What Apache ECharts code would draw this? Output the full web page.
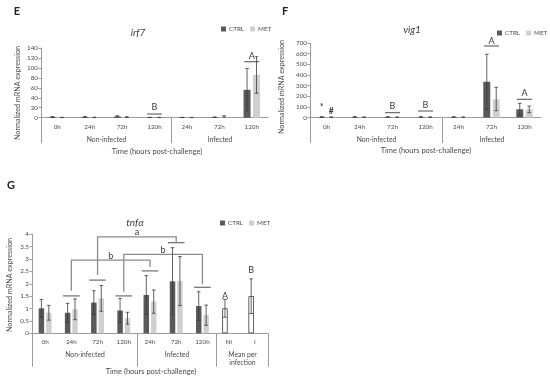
<!DOCTYPE html>
<html><head><meta charset="utf-8">
<script src="https://cdn.jsdelivr.net/npm/echarts@6/dist/echarts.min.js"></script>
<style>html,body{margin:0;padding:0;background:#fff}#c{width:550px;height:380px}</style>
</head><body><div id="c"></div>
<script>
// ---------------- DATA ----------------
// Panel E - irf7
const eCategories = ['0h','24h','72h','120h','24h','72h','120h'];
const eCtrl     = [1.5, 1.5, 2.5, 0.5, 0.5, 1.0, 56];
const eCtrlLow  = [0.5, 0.5, 1.0, 0.2, 0.2, 0.5, 13.5];
const eCtrlHigh = [2.5, 2.5, 4.0, 0.8, 0.8, 1.5, 99];
const eMet      = [0.5, 0.6, 1.2, 0.4, 0.4, 2.0, 86];
const eMetLow   = [0.2, 0.2, 0.5, 0.2, 0.2, 0.8, 49];
const eMetHigh  = [0.8, 1.0, 2.0, 0.6, 0.6, 4.0, 122.5];
const eYTicks   = [0, 140, 20];           // min, max, step
const eMarkCat    = [3, 6];
const eMarkLineY  = [7.4, 112.4];
const eMarkTextY  = [21, 124.5];
const eMarkLetter = ['B', 'A'];

// Panel F - vig1
const fCategories = ['0h','24h','72h','120h','24h','72h','120h'];
const fCtrl     = [5, 5, 5, 5, 5, 336, 77];
const fCtrlLow  = [2, 2, 2, 2, 2, 77, 23];
const fCtrlHigh = [8, 8, 8, 8, 8, 594, 133];
const fMet      = [3, 3, 3, 3, 3, 171, 77];
const fMetLow   = [1, 1, 1, 1, 1, 64, 45];
const fMetHigh  = [5, 5, 5, 5, 5, 284, 108];
const fYTicks   = [0, 700, 100];
const fMarkCat    = [2, 3, 5, 6];
const fMarkLineY  = [45, 61, 672, 171];
const fMarkTextY  = [108, 117, 722, 233];
const fMarkLetter = ['B', 'B', 'A', 'A'];
const fSymCat    = [0, 0];
const fSymY      = [92, 55];
const fSymSide   = [-1, 1];
const fSymText   = ['*', '#'];

// Panel G - tnfα
const gCategories = ['0h','24h','72h','120h','24h','72h','120h','NI','I'];
const gCtrl     = [1.01, 0.83, 1.24, 0.92, 1.55, 2.10, 1.10];
const gCtrlLow  = [0.65, 0.45, 0.76, 0.43, 0.77, 0.74, 0.52];
const gCtrlHigh = [1.37, 1.21, 1.72, 1.41, 2.33, 3.46, 1.68];
const gMet      = [0.83, 0.97, 1.41, 0.61, 1.28, 2.11, 0.73];
const gMetLow   = [0.53, 0.55, 0.89, 0.37, 0.81, 1.12, 0.32];
const gMetHigh  = [1.13, 1.39, 1.93, 0.85, 1.75, 3.10, 1.14];
const gMean     = [1.01, 1.50];
const gMeanLow  = [0.65, 0.80];
const gMeanHigh = [1.37, 2.20];
const gYTicks   = [0, 4, 0.5];
const gLineCat  = [1, 2, 3, 4, 5, 6];
const gLineY    = [1.51, 2.15, 1.51, 2.52, 3.66, 1.86];
const gLetterCat = [7, 8];
const gLetterY   = [1.51, 2.56];
const gLetter    = ['A', 'B'];
// brackets: left cat, right cat, top y, left bottom y, right bottom y, label y
const gBrLeft   = [2, 1, 3];
const gBrRight  = [5, 4, 6];
const gBrTop    = [3.90, 2.96, 3.19];
const gBrLeftB  = [2.36, 1.72, 1.68];
const gBrRightB = [3.70, 2.68, 1.98];
const gBrLabelY = [4.10, 3.12, 3.37];
const gBrLabel  = ['a', 'b', 'b'];

const groupNames2 = ['Non-infected', 'Infected'];
const groupStart2 = [0, 4];
const groupEnd2   = [3, 6];
const groupNames3 = ['Non-infected', 'Infected', 'Mean per\ninfection'];
const groupStart3 = [0, 4, 7];
const groupEnd3   = [3, 6, 8];

// ---------------- STYLE ----------------
const FONT = 'Lato, "Liberation Sans", sans-serif';
const AXIS_COLOR = '#9c9c9c';
const TEXT_COLOR = '#4a4a4a';
const DARK = '#3a3a3a';
const CTRL_COLOR = '#5a5a5a';
const MET_COLOR = '#d0d0d0';
const BRACKET_COLOR = '#8c8c8c';

const panels = [
  {grid:{left:41, top:48, width:227, height:69.7}, cats:eCategories, ticks:eYTicks, barW:7,
   ctrl:eCtrl, met:eMet, cl:eCtrlLow, ch:eCtrlHigh, ml:eMetLow, mh:eMetHigh,
   groups:[groupNames2, groupStart2, groupEnd2], gLen:25.5, gTop:18.3, closeRight:false,
   marks:[eMarkCat, eMarkLineY, eMarkTextY, eMarkLetter], halfLine:7.5},
  {grid:{left:310, top:43, width:231, height:74.5}, cats:fCategories, ticks:fYTicks, barW:7,
   ctrl:fCtrl, met:fMet, cl:fCtrlLow, ch:fCtrlHigh, ml:fMetLow, mh:fMetHigh,
   groups:[groupNames2, groupStart2, groupEnd2], gLen:25.5, gTop:18.3, closeRight:false,
   marks:[fMarkCat, fMarkLineY, fMarkTextY, fMarkLetter], halfLine:7.5},
  {grid:{left:32, top:234.3, width:236, height:99}, cats:gCategories, ticks:gYTicks, barW:5.5,
   ctrl:gCtrl, met:gMet, cl:gCtrlLow, ch:gCtrlHigh, ml:gMetLow, mh:gMetHigh,
   groups:[groupNames3, groupStart3, groupEnd3], gLen:33.4, gTop:18,
   closeRight:true, marks:null, halfLine:8.3}
];
const GAP_RATIO = 0.35;

function offsetOf(barW, side){ return side * barW * (1 + GAP_RATIO) / 2; }

function errorSeries(idx, lows, highs, offset){
  const data = [];
  lows.forEach((l, i) => { if (l != null && highs[i] != null) data.push([i, l, highs[i]]); });
  return {type:'custom', xAxisIndex:idx, yAxisIndex:idx, silent:true, z:5, clip:false,
    data, encode:{x:0, y:[1,2]},
    renderItem(params, api){
      const lo = api.coord([api.value(0), api.value(1)]);
      const hi = api.coord([api.value(0), api.value(2)]);
      const x = lo[0] + offset, cap = 1.8;
      const st = {stroke:DARK, lineWidth:0.8};
      return {type:'group', children:[
        {type:'line', shape:{x1:x, y1:lo[1], x2:x, y2:hi[1]}, style:st},
        {type:'line', shape:{x1:x-cap, y1:hi[1], x2:x+cap, y2:hi[1]}, style:st},
        {type:'line', shape:{x1:x-cap, y1:lo[1], x2:x+cap, y2:lo[1]}, style:st}
      ]};
    }};
}

function groupSeries(idx, p){
  const [names, starts, ends] = p.groups;
  return {type:'custom', xAxisIndex:idx, yAxisIndex:idx, silent:true, z:2, clip:false,
    data: names.map((n, i) => [starts[i], ends[i], 0]), encode:{x:[0,1], y:2},
    renderItem(params, api){
      const band = api.size([1, 0])[0];
      const a = api.coord([api.value(0), 0]);
      const b = api.coord([api.value(1), 0]);
      const x0 = Math.round(a[0] - band/2) + 0.5, x1 = Math.round(b[0] + band/2) + 0.5, y = a[1];
      const ls = {stroke:AXIS_COLOR, lineWidth:1};
      const ch = [
        {type:'line', shape:{x1:x0, y1:y, x2:x0, y2:y + p.gLen}, style:ls},
        {type:'text', x:(x0 + x1)/2, y:y + p.gTop, style:{text:names[params.dataIndex], fill:TEXT_COLOR,
          fontSize:6.8, fontFamily:FONT, align:'center', verticalAlign:'top', lineHeight:8}}
      ];
      if (p.closeRight && params.dataIndex === names.length - 1)
        ch.push({type:'line', shape:{x1:x1, y1:y, x2:x1, y2:y + p.gLen}, style:ls});
      return {type:'group', children:ch};
    }};
}

function markSeries(idx, p){
  const [cats, lineY, textY, letters] = p.marks;
  return {type:'custom', xAxisIndex:idx, yAxisIndex:idx, silent:true, z:6, clip:false,
    data: cats.map((c, i) => [c, lineY[i], textY[i]]), encode:{x:0, y:[1,2]},
    renderItem(params, api){
      const l = api.coord([api.value(0), api.value(1)]);
      const t = api.coord([api.value(0), api.value(2)]);
      return {type:'group', children:[
        {type:'line', shape:{x1:l[0]-p.halfLine, y1:l[1], x2:l[0]+p.halfLine, y2:l[1]}, style:{stroke:DARK, lineWidth:0.9}},
        {type:'text', x:t[0], y:t[1], style:{text:letters[params.dataIndex], fill:DARK, fontSize:9,
          fontFamily:FONT, align:'center', verticalAlign:'middle'}}
      ]};
    }};
}

const option = {
  animation:false,
  textStyle:{fontFamily:FONT},
  grid: panels.map(p => p.grid),
  xAxis: panels.map((p, i) => ({
    type:'category', gridIndex:i, data:p.cats,
    axisLine:{lineStyle:{color:AXIS_COLOR, width:1}},
    axisTick:{show:false},
    axisLabel:{fontSize:6.3, color:TEXT_COLOR, margin:6, interval:0, fontFamily:FONT}
  })),
  yAxis: panels.map((p, i) => ({
    type:'value', gridIndex:i, min:p.ticks[0], max:p.ticks[1], interval:p.ticks[2],
    splitLine:{show:false},
    axisLine:{show:true, lineStyle:{color:AXIS_COLOR, width:1}},
    axisTick:{show:true, length:2.5, lineStyle:{color:AXIS_COLOR}},
    axisLabel:{fontSize:6.3, color:TEXT_COLOR, margin:3, fontFamily:FONT}
  })),
  legend: [[221, 26], [497, 30], [220, 220]].map(pos => ({
    left:pos[0], top:pos[1], data:['CTRL', 'MET'], icon:'rect', itemWidth:5, itemHeight:5, itemGap:6,
    padding:0, selectedMode:false,
    textStyle:{fontSize:6.3, color:TEXT_COLOR, fontFamily:FONT, padding:[0,0,0,-2]}
  })),
  series: [],
  graphic: {elements: [
    {type:'text', x:17, y:11, style:{text:'E', fontSize:11, fontWeight:'bold', fill:'#222', fontFamily:FONT, align:'center', verticalAlign:'middle'}},
    {type:'text', x:285, y:11, style:{text:'F', fontSize:11, fontWeight:'bold', fill:'#222', fontFamily:FONT, align:'center', verticalAlign:'middle'}},
    {type:'text', x:11, y:185, style:{text:'G', fontSize:11, fontWeight:'bold', fill:'#222', fontFamily:FONT, align:'center', verticalAlign:'middle'}},
    {type:'text', x:138, y:33, style:{text:'irf7', fontSize:10, fontStyle:'italic', fill:DARK, fontFamily:FONT, align:'center', verticalAlign:'middle'}},
    {type:'text', x:412, y:30, style:{text:'vig1', fontSize:10, fontStyle:'italic', fill:DARK, fontFamily:FONT, align:'center', verticalAlign:'middle'}},
    {type:'text', x:135, y:223, style:{text:'tnfα', fontSize:10, fontStyle:'italic', fill:DARK, fontFamily:FONT, align:'center', verticalAlign:'middle'}},
    {type:'text', x:18, y:93, rotation:Math.PI/2, style:{text:'Normalized mRNA expression', fontSize:7.2, fill:TEXT_COLOR, fontFamily:FONT, align:'center', verticalAlign:'middle'}},
    {type:'text', x:282, y:87, rotation:Math.PI/2, style:{text:'Normalized mRNA expression', fontSize:7.2, fill:TEXT_COLOR, fontFamily:FONT, align:'center', verticalAlign:'middle'}},
    {type:'text', x:10, y:285, rotation:Math.PI/2, style:{text:'Normalized mRNA expression', fontSize:7.2, fill:TEXT_COLOR, fontFamily:FONT, align:'center', verticalAlign:'middle'}},
    {type:'text', x:157, y:152, style:{text:'Time (hours post-challenge)', fontSize:7.5, fill:TEXT_COLOR, fontFamily:FONT, align:'center', verticalAlign:'middle'}},
    {type:'text', x:426, y:151, style:{text:'Time (hours post-challenge)', fontSize:7.5, fill:TEXT_COLOR, fontFamily:FONT, align:'center', verticalAlign:'middle'}},
    {type:'text', x:151, y:372, style:{text:'Time (hours post-challenge)', fontSize:7.5, fill:TEXT_COLOR, fontFamily:FONT, align:'center', verticalAlign:'middle'}}
  ]}
};

panels.forEach((p, i) => {
  const isG = (i === 2);
  const ctrlData = isG
    ? p.ctrl.concat(gMean.map(v => ({value:v, itemStyle:{color:'#ffffff', borderColor:DARK, borderWidth:0.8}})))
    : p.ctrl;
  const metData = isG ? p.met.concat(gMean.map(() => '-')) : p.met;
  const barCommon = {type:'bar', xAxisIndex:i, yAxisIndex:i, barWidth:p.barW, barGap:(GAP_RATIO*100)+'%', silent:true, z:3};
  option.series.push(Object.assign({name:'CTRL', data:ctrlData, itemStyle:{color:CTRL_COLOR}}, barCommon));
  option.series.push(Object.assign({name:'MET', data:metData, itemStyle:{color:MET_COLOR}}, barCommon));
  const cl = isG ? p.cl.concat(gMeanLow) : p.cl;
  const ch = isG ? p.ch.concat(gMeanHigh) : p.ch;
  option.series.push(errorSeries(i, cl, ch, offsetOf(p.barW, -1)));
  option.series.push(errorSeries(i, p.ml, p.mh, offsetOf(p.barW, 1)));
  option.series.push(groupSeries(i, p));
  if (p.marks) option.series.push(markSeries(i, p));
});

// F: symbols over 0h
option.series.push({type:'custom', xAxisIndex:1, yAxisIndex:1, silent:true, z:6, clip:false,
  data: fSymCat.map((c, i) => [c, fSymY[i]]), encode:{x:0, y:1},
  renderItem(params, api){
    const pt = api.coord([api.value(0), api.value(1)]);
    const k = params.dataIndex;
    return {type:'text', x:pt[0] + offsetOf(panels[1].barW, fSymSide[k]), y:pt[1],
      style:{text:fSymText[k], fill:DARK, fontSize:8.5, fontWeight:'bold', fontFamily:FONT, align:'center', verticalAlign:'middle'}};
  }});

// G: lines over category pairs
option.series.push({type:'custom', xAxisIndex:2, yAxisIndex:2, silent:true, z:6, clip:false,
  data: gLineCat.map((c, i) => [c, gLineY[i]]), encode:{x:0, y:1},
  renderItem(params, api){
    const pt = api.coord([api.value(0), api.value(1)]);
    const h = panels[2].halfLine;
    return {type:'line', shape:{x1:pt[0]-h, y1:pt[1], x2:pt[0]+h, y2:pt[1]}, style:{stroke:DARK, lineWidth:0.9}};
  }});

// G: letters over mean bars
option.series.push({type:'custom', xAxisIndex:2, yAxisIndex:2, silent:true, z:6, clip:false,
  data: gLetterCat.map((c, i) => [c, gLetterY[i]]), encode:{x:0, y:1},
  renderItem(params, api){
    const pt = api.coord([api.value(0), api.value(1)]);
    return {type:'text', x:pt[0] + offsetOf(panels[2].barW, -1), y:pt[1],
      style:{text:gLetter[params.dataIndex], fill:DARK, fontSize:9, fontFamily:FONT, align:'center', verticalAlign:'middle'}};
  }});

// G: significance brackets
option.series.push({type:'custom', xAxisIndex:2, yAxisIndex:2, silent:true, z:4, clip:false,
  data: gBrLeft.map((l, i) => [l, gBrRight[i], gBrTop[i], gBrLeftB[i], gBrRightB[i], gBrLabelY[i]]),
  encode:{x:[0,1], y:[2,3,4,5]},
  renderItem(params, api){
    const l = api.value(0), r = api.value(1);
    const pLB = api.coord([l, api.value(3)]), pLT = api.coord([l, api.value(2)]);
    const pRT = api.coord([r, api.value(2)]), pRB = api.coord([r, api.value(4)]);
    const pLab = api.coord([l, api.value(5)]);
    return {type:'group', children:[
      {type:'polyline', shape:{points:[pLB, pLT, pRT, pRB]}, style:{stroke:BRACKET_COLOR, lineWidth:1.3, fill:null}},
      {type:'text', x:(pLT[0] + pRT[0]) / 2, y:pLab[1], style:{text:gBrLabel[params.dataIndex], fill:DARK,
        fontSize:9, fontFamily:FONT, align:'center', verticalAlign:'middle'}}
    ]};
  }});

const chart = echarts.init(document.getElementById('c'), null, {renderer:'canvas'});
chart.setOption(option);
</script>
</body></html>
